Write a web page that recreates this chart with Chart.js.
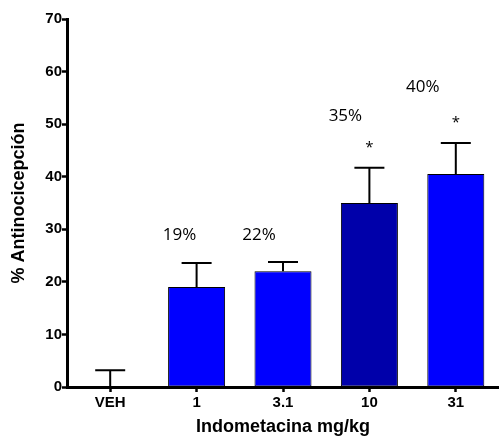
<!DOCTYPE html>
<html>
<head>
<meta charset="utf-8">
<script src="https://cdn.jsdelivr.net/npm/chart.js@4/dist/chart.umd.min.js"></script>
<style>
  html, body { margin: 0; padding: 0; background: #fff; }
  #wrap { width: 499px; height: 438px; }
</style>
</head>
<body>
<div id="wrap"><canvas id="c"></canvas></div>
<script>
// Dose groups and mean % antinociception with upper SEM
const doses = ['VEH', '1', '3.1', '10', '31'];
const means = [0, 19, 22, 35, 40.5];
const sems = [3.2, 4.6, 1.8, 6.7, 5.9];
const percentLabels = ['', '19%', '22%', '35%', '40%'];
const significant = [false, false, false, true, true];
const yTicks = [0, 10, 20, 30, 40, 50, 60, 70];

const barColors = ['#0000ff', '#0000ff', '#0000ff', '#0000aa', '#0000ff'];

// upper error bars, asterisks and percentage labels
const annotations = {
  id: 'annotations',
  afterDatasetsDraw(chart, args, opts) {
    const { ctx, scales: { x, y } } = chart;
    ctx.save();
    ctx.strokeStyle = '#000';
    ctx.lineWidth = 2;
    ctx.fillStyle = '#000';
    means.forEach((m, i) => {
      const cx = x.getPixelForValue(i);
      const yTop = y.getPixelForValue(m);
      const yErr = y.getPixelForValue(m + sems[i]);
      ctx.beginPath();
      ctx.moveTo(cx, yTop);
      ctx.lineTo(cx, yErr);
      ctx.moveTo(cx - opts.capHalf, yErr);
      ctx.lineTo(cx + opts.capHalf, yErr);
      ctx.stroke();

      ctx.textAlign = 'center';
      ctx.textBaseline = 'middle';
      if (significant[i]) {
        ctx.font = '15px "Open Sans"';
        ctx.fillText('*', cx, yErr - opts.starLift);
      }
      if (percentLabels[i]) {
        ctx.font = '17px "Open Sans"';
        ctx.fillText(percentLabels[i], cx + opts.pctShift[i], yErr - opts.pctLift[i]);
      }
    });
    ctx.restore();
  }
};

new Chart(document.getElementById('c'), {
  type: 'bar',
  data: {
    labels: doses,
    datasets: [{
      data: means,
      backgroundColor: barColors,
      borderColor: '#000',
      borderWidth: 1,
      borderSkipped: false,
      barPercentage: 0.66,
      categoryPercentage: 1
    }]
  },
  options: {
    responsive: true,
    maintainAspectRatio: false,
    animation: false,
    layout: { padding: { top: 19, right: 0, left: 0, bottom: 0 } },
    plugins: {
      legend: { display: false },
      tooltip: { enabled: false },
      annotations: {
        capHalf: 15,
        starLift: 20,
        pctShift: [0, -17, -24, -24, -33],
        pctLift: [0, 28, 27, 52, 56]
      }
    },
    scales: {
      x: {
        grid: { display: true, drawOnChartArea: false, offset: false, tickLength: 5, tickWidth: 2.5, tickColor: '#000' },
        border: { display: true, color: '#000', width: 3 },
        ticks: { color: '#000', font: { family: 'Liberation Sans', weight: 'bold', size: 15 }, padding: 2 },
        title: {
          display: true,
          text: 'Indometacina mg/kg',
          color: '#000',
          font: { family: 'Liberation Sans', weight: 'bold', size: 18 },
          padding: { top: 0, bottom: 0 }
        },
        afterFit(scale) { scale.height = 51; }
      },
      y: {
        min: 0,
        max: 70,
        afterBuildTicks(scale) { scale.ticks = yTicks.map(v => ({ value: v })); },
        grid: { display: true, drawOnChartArea: false, tickLength: 5, tickWidth: 2.5, tickColor: '#000' },
        border: { display: true, color: '#000', width: 3 },
        ticks: { color: '#000', font: { family: 'Liberation Sans', weight: 'bold', size: 15 }, padding: 0 },
        title: {
          display: true,
          text: '% Antinocicepción',
          color: '#000',
          font: { family: 'Liberation Sans', weight: 'bold', size: 18 },
          padding: { top: 8, bottom: 0 }
        },
        afterFit(scale) { scale.width = 67; }
      }
    }
  },
  plugins: [annotations]
});
</script>
</body>
</html>
